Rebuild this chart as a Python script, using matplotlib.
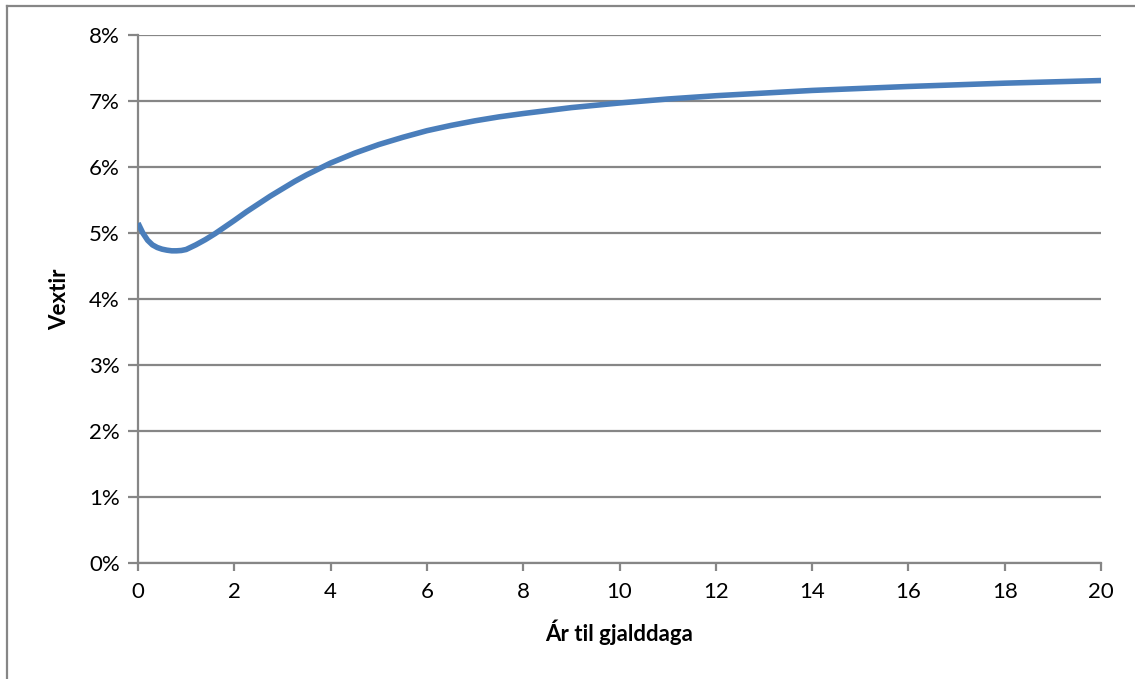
import matplotlib
matplotlib.use("Agg")
import matplotlib.pyplot as plt
from matplotlib.lines import Line2D
from matplotlib.ticker import FuncFormatter

# yield curve: years to maturity vs. interest rate (%)
years = [0.0, 0.1, 0.2, 0.3, 0.4, 0.5, 0.6, 0.7, 0.8, 0.9, 1.0, 1.2, 1.4, 1.6, 1.8,
         2.0, 2.25, 2.5, 2.75, 3.0, 3.25, 3.5, 3.75, 4.0, 4.5, 5.0, 5.5, 6.0, 6.5,
         7.0, 7.5, 8.0, 9.0, 10.0, 11.0, 12.0, 13.0, 14.0, 15.0, 16.0, 17.0, 18.0,
         19.0, 20.0]
rates = [5.15, 5.00, 4.89, 4.82, 4.78, 4.755, 4.74, 4.73, 4.73, 4.735, 4.75, 4.82, 4.90,
         4.99, 5.09, 5.19, 5.32, 5.44, 5.56, 5.67, 5.78, 5.88, 5.97, 6.06, 6.21, 6.34,
         6.45, 6.55, 6.63, 6.70, 6.76, 6.81, 6.90, 6.97, 7.03, 7.08, 7.12, 7.16, 7.19,
         7.22, 7.245, 7.27, 7.29, 7.31]

x_ticks = list(range(0, 21, 2))
y_ticks = list(range(0, 9))

grid_col = "#868686"
line_col = "#4a7ebb"

plt.rcParams["font.family"] = ["Lato", "DejaVu Sans"]

fig = plt.figure(figsize=(11.35, 6.79), dpi=100)
ax = fig.add_axes([138 / 1135, 1 - 563 / 679, (1101 - 138) / 1135, (563 - 35) / 679])

ax.plot(years, rates, color=line_col, linewidth=4.0, solid_capstyle="butt",
        solid_joinstyle="round", zorder=3)

ax.set_xlim(0, 20)
ax.set_ylim(0, 8)
ax.set_xticks(x_ticks)
ax.set_yticks(y_ticks)
ax.yaxis.set_major_formatter(FuncFormatter(lambda v, p: "%d%%" % v))

ax.grid(axis="y", color=grid_col, linewidth=1.6, zorder=1)
for side in ("top", "right"):
    ax.spines[side].set_visible(False)
for side in ("left", "bottom"):
    ax.spines[side].set_color(grid_col)
    ax.spines[side].set_linewidth(1.6)

ax.tick_params(axis="y", direction="out", length=7, width=1.6, color=grid_col,
               labelsize=16, pad=6)
ax.tick_params(axis="x", direction="out", length=6, width=1.6, color=grid_col,
               labelsize=16, pad=8)

ax.set_xlabel("Ár til gjalddaga", fontsize=16, fontweight="bold", labelpad=12)
ax.set_ylabel("Vextir", fontsize=16, fontweight="bold", labelpad=14)

# chart area border (left and top edges)
fig.add_artist(Line2D([6.5 / 1135, 6.5 / 1135], [0, 1 - 5.5 / 679],
                      transform=fig.transFigure, color=grid_col, linewidth=1.6))
fig.add_artist(Line2D([6.5 / 1135, 1], [1 - 5.5 / 679, 1 - 5.5 / 679],
                      transform=fig.transFigure, color=grid_col, linewidth=1.6))

fig.savefig("out.png", dpi=100)
